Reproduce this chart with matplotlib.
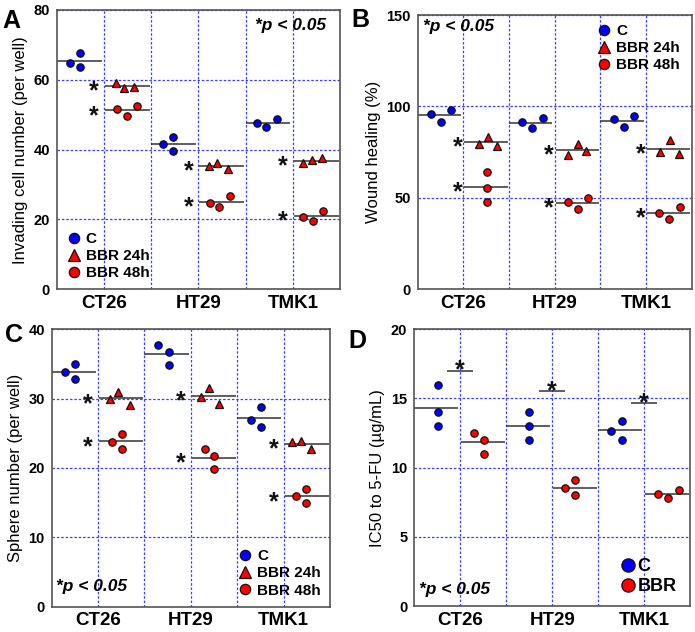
import numpy as np
import matplotlib
matplotlib.use("Agg")
import matplotlib.pyplot as plt

plt.rcParams['font.family'] = ['Liberation Sans', 'DejaVu Sans']

cells = ["CT26", "HT29", "TMK1"]

# A: invading cell number (per well), 3 replicates per cell line
inv_c = [[64.7, 67.6, 63.6], [41.6, 43.5, 39.7], [47.5, 46.6, 48.7]]
inv_24 = [[59.2, 57.8, 58.0], [35.3, 36.1, 34.4], [36.1, 37.0, 37.5]]
inv_48 = [[51.6, 49.6, 52.6], [24.8, 23.7, 26.7], [20.6, 19.7, 22.5]]

# B: wound healing (%)
wnd_c = [[95.9, 91.3, 98.0], [91.7, 88.0, 93.7], [92.9, 88.6, 94.8]]
wnd_24 = [[79.5, 83.5, 78.4], [73.4, 79.5, 75.5], [75.3, 81.6, 74.0]]
wnd_48 = [[64.3, 55.6, 47.7], [47.9, 43.7, 49.9], [41.6, 38.6, 44.8]]

# C: sphere number (per well)
sph_c = [[33.8, 35.0, 32.8], [37.7, 36.7, 34.8], [26.9, 25.9, 28.8]]
sph_24 = [[30.0, 31.0, 29.1], [30.3, 31.6, 29.2], [23.7, 23.9, 22.8]]
sph_48 = [[23.8, 24.9, 22.8], [22.8, 21.8, 19.8], [15.9, 16.9, 14.9]]

# D: IC50 to 5-FU (ug/mL)
ic_c = [[16.0, 14.0, 13.0], [14.0, 13.0, 12.0], [12.65, 13.4, 12.0]]
ic_bbr = [[12.5, 12.0, 11.0], [8.5, 9.1, 8.0], [8.07, 7.8, 8.4]]
ic_sig = [17.0, 15.5, 14.65]

# horizontal scatter of replicates inside each slot (layout only)
jit_a = ([[0.28, 0.49, 0.49], [0.26, 0.47, 0.47], [0.24, 0.43, 0.67]],
         [[0.25, 0.43, 0.64], [0.23, 0.40, 0.62], [0.22, 0.40, 0.61]],
         [[0.27, 0.48, 0.69], [0.25, 0.44, 0.67], [0.21, 0.42, 0.64]])
jit_b = ([[0.29, 0.51, 0.73], [0.29, 0.51, 0.74], [0.31, 0.51, 0.73]],
         [[0.34, 0.55, 0.74], [0.29, 0.50, 0.68], [0.31, 0.53, 0.72]],
         [[0.51, 0.51, 0.51], [0.30, 0.52, 0.74], [0.28, 0.50, 0.74]])
jit_c = ([[0.29, 0.50, 0.50], [0.30, 0.52, 0.52], [0.29, 0.51, 0.51]],
         [[0.26, 0.42, 0.68], [0.22, 0.40, 0.61], [0.19, 0.38, 0.58]],
         [[0.29, 0.51, 0.51], [0.30, 0.50, 0.50], [0.27, 0.49, 0.49]])
jit_d = ([[0.51, 0.51, 0.51], [0.50, 0.50, 0.50], [0.29, 0.51, 0.51]],
         [[0.31, 0.51, 0.51], [0.29, 0.50, 0.50], [0.31, 0.52, 0.75]])

GRID = '#3c3cff'
EDGE = '#111111'
MEAN = '#333333'


def base_axes(fig, rect, ymax, ystep, ylabel):
    ax = fig.add_axes(rect)
    ax.set_xlim(0, 6)
    ax.set_ylim(0, ymax)
    ax.set_yticks(np.arange(0, ymax + 0.1, ystep))
    ax.set_xticks([1, 3, 5])
    ax.set_xticklabels(cells, fontsize=13.5, fontweight='bold')
    for lab in ax.get_yticklabels():
        lab.set_fontweight('bold')
        lab.set_fontsize(10.5)
    ax.tick_params(length=0, pad=5)
    ax.tick_params(axis='x', pad=4)
    ax.yaxis.grid(True, color=GRID, ls=(0, (2, 1.5)), lw=0.9)
    for xv in range(1, 6):
        ax.axvline(xv, color=GRID, ls=(0, (2, 1.5)), lw=0.9, zorder=0.5)
    ax.set_axisbelow(True)
    for sp in ax.spines.values():
        sp.set_color('#555555')
        sp.set_linewidth(1.2)
    ax.set_ylabel(ylabel, fontsize=12, labelpad=4)
    return ax


def series(ax, vals, jit, slot, marker, color, label, ms=5.3):
    xs, ys = [], []
    for i, (v, j) in enumerate(zip(vals, jit)):
        k = 2 * i + slot
        xs += [k + o for o in j]
        ys += v
        m = np.mean(v)
        ax.hlines(m, k + 0.02 * slot, k + 0.95 + 0.02 * slot, color=MEAN, lw=1.1, zorder=2)
    ax.plot(xs, ys, ls='none', marker=marker, ms=ms, mfc=color, mec=EDGE,
            mew=0.9, label=label, zorder=3)


def star(ax, x, y, fs=18, dy=None):
    if dy is None:
        dy = -0.5 * fs
    ax.annotate("*", (x, y), xytext=(0, dy), textcoords='offset points',
                ha='center', va='baseline', fontsize=fs, fontweight='bold',
                color='#111111')


def three_groups(ax, c, g24, g48, jit, star_off):
    series(ax, c, jit[0], 0, 'o', '#0000ff', 'C')
    series(ax, g24, jit[1], 1, '^', '#ff0000', 'BBR 24h', ms=5.8)
    series(ax, g48, jit[2], 1, 'o', '#ff0000', 'BBR 48h')
    for i in range(3):
        star(ax, 2 * i + star_off, np.mean(g24[i]))
        star(ax, 2 * i + star_off, np.mean(g48[i]))


def pnote(ax, x, y, ha):
    ax.text(x, y, "*p < 0.05", transform=ax.transAxes, ha=ha, va='center',
            fontsize=12.5, fontweight='bold', fontstyle='italic')


fig = plt.figure(figsize=(6.95, 6.32), dpi=100)
leg_kw = dict(frameon=False, markerscale=1.4, handletextpad=0.3, handlelength=1.0,
              labelspacing=0.2, borderaxespad=0.2, prop={'weight': 'bold', 'size': 11})

# ---- A
axA = base_axes(fig, [0.0816, 0.5422, 0.4076, 0.442], 80, 20,
                "Invading cell number (per well)")
three_groups(axA, inv_c, inv_24, inv_48, jit_a, 0.79)
pnote(axA, 0.95, 0.945, 'right')
axA.legend(loc='lower left', **leg_kw)

# ---- B
axB = base_axes(fig, [0.601, 0.5422, 0.3942, 0.434], 150, 50, "Wound healing (%)")
three_groups(axB, wnd_c, wnd_24, wnd_48, jit_b, 0.88)
pnote(axB, 0.02, 0.96, 'left')
axB.legend(loc='upper right', bbox_to_anchor=(0.99, 1.0), **leg_kw)

# ---- C
axC = base_axes(fig, [0.0744, 0.040, 0.4004, 0.439], 40, 10, "Sphere number (per well)")
three_groups(axC, sph_c, sph_24, sph_48, jit_c, 0.78)
pnote(axC, 0.015, 0.072, 'left')
axC.legend(loc='lower right', **leg_kw)

# ---- D
axD = base_axes(fig, [0.5961, 0.0411, 0.3967, 0.438], 20, 5, "IC50 to 5-FU (\u00b5g/mL)")
series(axD, ic_c, jit_d[0], 0, 'o', '#0000ff', 'C')
series(axD, ic_bbr, jit_d[1], 1, 'o', '#ff0000', 'BBR')
for i, s in enumerate(ic_sig):
    axD.hlines(s, 2 * i + 0.72, 2 * i + 1.28, color=MEAN, lw=1.1)
    star(axD, 2 * i + 1.0, s, dy=-5)
pnote(axD, 0.017, 0.058, 'left')
axD.legend(loc='lower right', bbox_to_anchor=(0.99, 0.0), frameon=False, markerscale=1.8,
           handletextpad=0.1, handlelength=0.8, labelspacing=0.15, borderaxespad=0.2,
           prop={'weight': 'bold', 'size': 13})

# panel letters
for lab, x, y in [("A", 0.004, 0.956), ("B", 0.506, 0.957), ("C", 0.007, 0.459),
                  ("D", 0.501, 0.449)]:
    fig.text(x, y, lab, fontsize=18, fontweight='bold', ha='left', va='baseline')

fig.savefig("out.png", dpi=100)
